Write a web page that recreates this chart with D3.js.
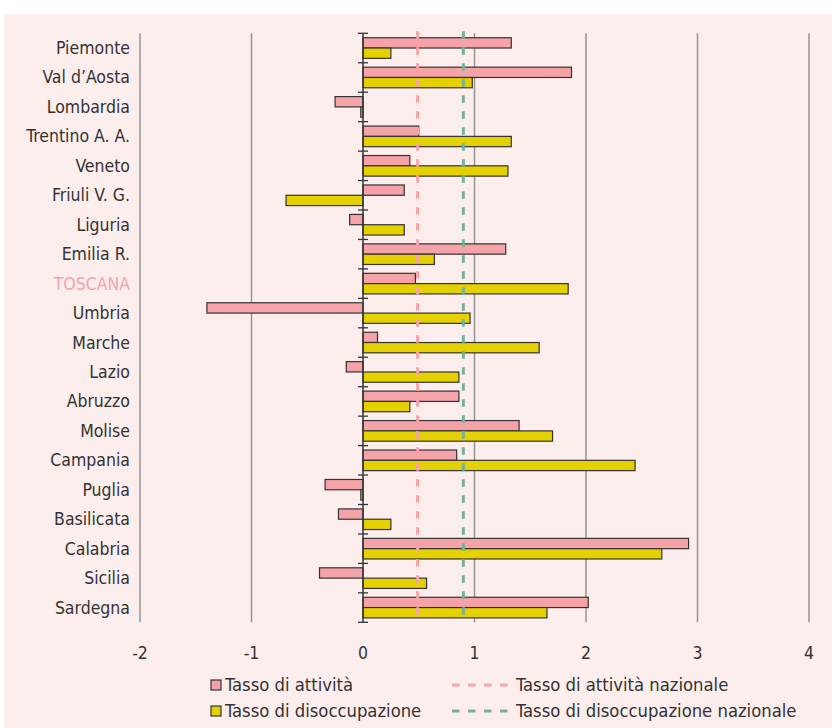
<!DOCTYPE html>
<html>
<head>
<meta charset="utf-8">
<script src="https://cdn.jsdelivr.net/npm/d3@7"></script>
<style>
  body { margin: 0; background: #fff; }
  svg { display: block; }
  .cat-label, .tick-label, .legend-label {
    font-family: "DejaVu Sans Condensed", "Liberation Sans", sans-serif;
    fill: #333;
  }
</style>
</head>
<body>
<svg width="832" height="728"></svg>
<script>
var regions = ["Piemonte", "Val d\u2019Aosta", "Lombardia", "Trentino A. A.", "Veneto",
  "Friuli V. G.", "Liguria", "Emilia R.", "TOSCANA", "Umbria", "Marche", "Lazio",
  "Abruzzo", "Molise", "Campania", "Puglia", "Basilicata", "Calabria", "Sicilia", "Sardegna"];

var attivita = [1.33, 1.87, -0.25, 0.50, 0.42, 0.37, -0.12, 1.28, 0.47, -1.40, 0.13, -0.15,
  0.86, 1.40, 0.84, -0.34, -0.22, 2.92, -0.39, 2.02];
var disoccupazione = [0.25, 0.98, -0.02, 1.33, 1.30, -0.69, 0.37, 0.64, 1.84, 0.96, 1.58, 0.86,
  0.42, 1.70, 2.44, -0.02, 0.25, 2.68, 0.57, 1.65];

var attivitaNazionale = 0.49;
var disoccupazioneNazionale = 0.90;

var xTicks = [-2, -1, 0, 1, 2, 3, 4];

var seriesNames = ["Tasso di attivit\u00e0", "Tasso di disoccupazione"];
var nationalNames = ["Tasso di attivit\u00e0 nazionale", "Tasso di disoccupazione nazionale"];

var pink = "#f5a3a9", yellow = "#e5d100", green = "#72b39c";

var svg = d3.select("svg");

svg.append("rect")
  .attr("x", 4).attr("y", 14)
  .attr("width", 828).attr("height", 714)
  .attr("fill", "#fdeeee");

var plotTop = 33.3, plotBottom = 622.3;

var x = d3.scaleLinear().domain([-2, 4]).range([140, 809]);

var y0 = d3.scaleBand()
  .domain(regions)
  .range([plotTop, plotBottom])
  .paddingInner(0.3)
  .paddingOuter(0.15);

var y1 = d3.scaleBand()
  .domain([0, 1])
  .range([0, y0.bandwidth()]);

// gridlines
svg.selectAll("line.grid")
  .data(xTicks.filter(function(t) { return t !== 0; }))
  .enter()
  .append("line")
  .attr("class", "grid")
  .attr("x1", function(d) { return x(d); })
  .attr("x2", function(d) { return x(d); })
  .attr("y1", plotTop)
  .attr("y2", plotBottom)
  .attr("stroke", "#959595")
  .attr("stroke-width", 1.5);

// bars
var rows = regions.map(function(r, i) {
  return { name: r, values: [attivita[i], disoccupazione[i]] };
});

var groups = svg.selectAll("g.row")
  .data(rows)
  .enter()
  .append("g")
  .attr("class", "row")
  .attr("transform", function(d) { return "translate(0," + y0(d.name) + ")"; });

groups.selectAll("rect")
  .data(function(d) { return d.values; })
  .enter()
  .append("rect")
  .attr("x", function(v) { return x(Math.min(0, v)); })
  .attr("y", function(v, i) { return y1(i); })
  .attr("width", function(v) { return Math.abs(x(v) - x(0)); })
  .attr("height", y1.bandwidth())
  .attr("fill", function(v, i) { return i === 0 ? pink : yellow; })
  .attr("stroke", "#333")
  .attr("stroke-width", 1.2);

// zero axis with ticks at category boundaries
svg.append("line")
  .attr("x1", x(0)).attr("x2", x(0))
  .attr("y1", plotTop).attr("y2", plotBottom)
  .attr("stroke", "#333")
  .attr("stroke-width", 1.5);

var step = y0.step();
svg.selectAll("line.cat-tick")
  .data(d3.range(regions.length + 1))
  .enter()
  .append("line")
  .attr("class", "cat-tick")
  .attr("x1", x(0) - 5)
  .attr("x2", x(0) + 5)
  .attr("y1", function(i) { return plotTop + i * step; })
  .attr("y2", function(i) { return plotTop + i * step; })
  .attr("stroke", "#333")
  .attr("stroke-width", 1.3);

// national lines
var nationals = [
  { value: attivitaNazionale, color: pink },
  { value: disoccupazioneNazionale, color: green }
];

svg.selectAll("line.national")
  .data(nationals)
  .enter()
  .append("line")
  .attr("class", "national")
  .attr("x1", function(d) { return x(d.value); })
  .attr("x2", function(d) { return x(d.value); })
  .attr("y1", plotTop - 2)
  .attr("y2", plotBottom - 5)
  .attr("stroke", function(d) { return d.color; })
  .attr("stroke-width", 3)
  .attr("stroke-dasharray", "7.5,8.5");

// category labels
svg.selectAll("text.cat-label")
  .data(regions)
  .enter()
  .append("text")
  .attr("class", "cat-label")
  .attr("x", 130)
  .attr("y", function(d) { return y0(d) + y0.bandwidth() / 2 + 6; })
  .attr("text-anchor", "end")
  .attr("font-size", "17.5px")
  .style("fill", function(d) { return d === "TOSCANA" ? pink : "#333"; })
  .text(function(d) { return d; });

// x tick labels
svg.selectAll("text.tick-label")
  .data(xTicks)
  .enter()
  .append("text")
  .attr("class", "tick-label")
  .attr("x", function(d) { return x(d); })
  .attr("y", 659)
  .attr("text-anchor", "middle")
  .attr("font-size", "17.5px")
  .text(function(d) { return d; });

// legend
var legendY = [685, 711];

svg.selectAll("rect.legend-box")
  .data(seriesNames)
  .enter()
  .append("rect")
  .attr("class", "legend-box")
  .attr("x", 211)
  .attr("y", function(d, i) { return legendY[i] - 5; })
  .attr("width", 10)
  .attr("height", 10)
  .attr("fill", function(d, i) { return i === 0 ? pink : yellow; })
  .attr("stroke", "#333")
  .attr("stroke-width", 1.2);

svg.selectAll("text.legend-series")
  .data(seriesNames)
  .enter()
  .append("text")
  .attr("class", "legend-label legend-series")
  .attr("x", 225)
  .attr("y", function(d, i) { return legendY[i] + 6; })
  .attr("font-size", "18.3px")
  .text(function(d) { return d; });

svg.selectAll("line.legend-dash")
  .data(nationals)
  .enter()
  .append("line")
  .attr("class", "legend-dash")
  .attr("x1", 452)
  .attr("x2", 508)
  .attr("y1", function(d, i) { return legendY[i]; })
  .attr("y2", function(d, i) { return legendY[i]; })
  .attr("stroke", function(d) { return d.color; })
  .attr("stroke-width", 3)
  .attr("stroke-dasharray", "7.5,8.5");

svg.selectAll("text.legend-national")
  .data(nationalNames)
  .enter()
  .append("text")
  .attr("class", "legend-label legend-national")
  .attr("x", 516)
  .attr("y", function(d, i) { return legendY[i] + 6; })
  .attr("font-size", "18.3px")
  .text(function(d) { return d; });
</script>
</body>
</html>
